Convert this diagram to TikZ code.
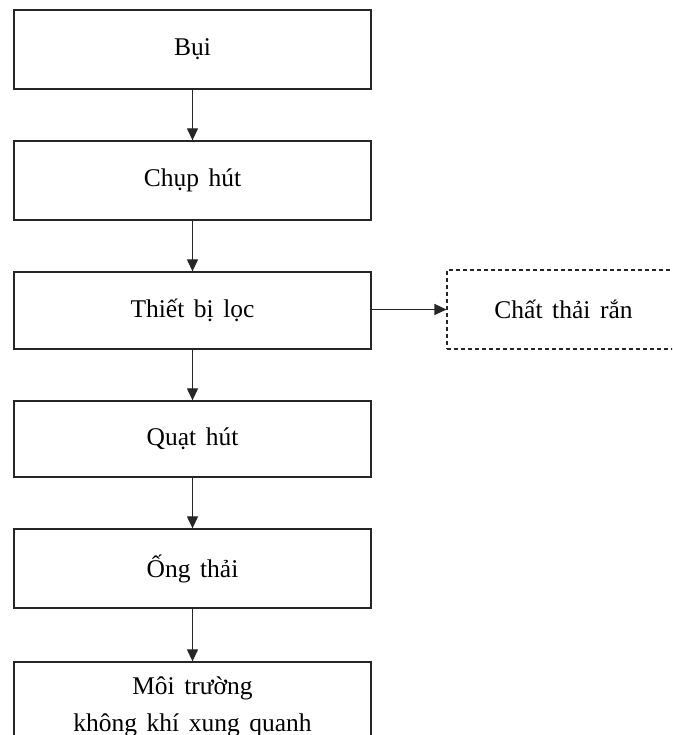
\documentclass[tikz,border=0pt]{standalone}
\usepackage{fontspec}
\setmainfont{Liberation Serif}[WordSpace=1.5]
\usetikzlibrary{arrows.meta}
\begin{document}
\begin{tikzpicture}[x=1pt,y=-1pt,
  font=\fontsize{25.5}{37}\selectfont,
  box/.style={draw=black!85, line width=1.3pt, minimum width=357pt, align=center, inner sep=0pt},
  wastebox/.style={draw=black!85, line width=1.1pt, dash pattern=on 4pt off 3pt, minimum width=233pt, minimum height=79pt, inner sep=0pt},
  flow/.style={draw=black!85, line width=1.2pt, -{Triangle[width=11pt,length=12pt]}}]
  \clip (0,0) rectangle (672,735);
  \fill[white] (0,0) rectangle (672,735);

  % main column of process steps
  \node[box, minimum height=79pt] (b1) at (192.5,49.5) {Bụi};
  \node[box, minimum height=79pt] (b2) at (192.5,180.5) {Chụp hút};
  \node[box, minimum height=77pt] (b3) at (192.5,310.5) {Thiết bị lọc};
  \node[box, minimum height=76pt] (b4) at (192.5,439) {Quạt hút};
  \node[box, minimum height=79pt] (b5) at (192.5,568.5) {Ống thải};
  \node[box, minimum height=90pt] (b6) at (192.5,707) {Môi trường\\không khí xung quanh};

  % side output of the filter
  \node[wastebox] (waste) at (563.5,309.5) {Chất thải rắn};

  \draw[flow] (b1.south) -- (b2.north);
  \draw[flow] (b2.south) -- (b3.north);
  \draw[flow] (b3.south) -- (b4.north);
  \draw[flow] (b4.south) -- (b5.north);
  \draw[flow] (b5.south) -- (b6.north);
  \draw[flow] (b3.east |- waste.west) -- (waste.west);
\end{tikzpicture}
\end{document}
